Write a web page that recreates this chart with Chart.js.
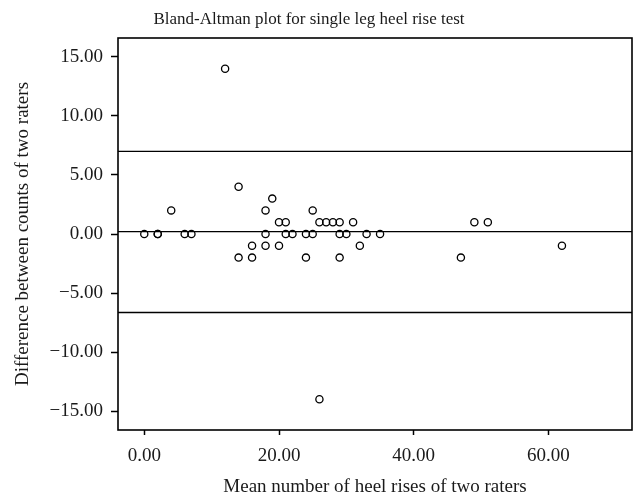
<!DOCTYPE html>
<html>
<head>
<meta charset="utf-8">
<script src="https://cdn.jsdelivr.net/npm/chart.js@4.4.1/dist/chart.umd.min.js"></script>
<style>
  html, body { margin: 0; padding: 0; background: #fff; }
  #wrap { width: 641px; height: 499px; position: relative; }
</style>
</head>
<body>
<div id="wrap"><canvas id="chart"></canvas></div>
<script>
;(function (window, document, Chart) {
  // mean of the two raters' counts (x) and the difference between them (y)
  var meanCounts = [0, 2, 2, 6, 7, 18, 21, 22, 24, 25, 29, 30, 33, 35,
                    20, 21, 26, 27, 28, 29, 31, 49, 51,
                    4, 18, 25,
                    19, 14, 12,
                    16, 18, 20, 32, 62,
                    14, 16, 24, 29, 47,
                    26]
  var diffCounts = [0, 0, 0, 0, 0, 0, 0, 0, 0, 0, 0, 0, 0, 0,
                    1, 1, 1, 1, 1, 1, 1, 1, 1,
                    2, 2, 2,
                    3, 4, 14,
                    -1, -1, -1, -1, -1,
                    -2, -2, -2, -2, -2,
                    -14]

  // mean difference and limits of agreement
  var meanDiff = 0.2
  var upperLimit = 7.0
  var lowerLimit = -6.65

  var xTicks = [0, 20, 40, 60]
  var yTicks = [-15, -10, -5, 0, 5, 10, 15]
  var xRange = [-3.9, 72.4]
  var yRange = [-16.6, 16.6]

  var titleText = 'Bland-Altman plot for single leg heel rise test'
  var xLabel = 'Mean number of heel rises of two raters'
  var yLabel = 'Difference between counts of two raters'

  var serif = "'Liberation Serif', 'DejaVu Serif', serif"
  var ink = '#000'

  var points = []
  for (var i = 0; i < meanCounts.length; i++) {
    points.push({ x: meanCounts[i], y: diffCounts[i] })
  }

  function hLine (value) {
    return {
      data: [{ x: xRange[0], y: value }, { x: xRange[1], y: value }],
      showLine: true,
      borderColor: ink,
      borderWidth: 1.3,
      pointRadius: 0
    }
  }

  function fmt (value) {
    var s = Math.abs(value).toFixed(2)
    return value < 0 ? '\u2212' + s : s
  }

  // box round the plot area plus the title above it
  var frame = {
    id: 'frame',
    afterDraw: function (chart) {
      var ctx = chart.ctx
      var a = chart.chartArea
      ctx.save()
      ctx.strokeStyle = ink
      ctx.lineWidth = 1.6
      ctx.strokeRect(a.left, a.top, a.right - a.left, a.bottom - a.top)
      ctx.fillStyle = '#1a1a1a'
      ctx.font = '17px ' + serif
      ctx.textAlign = 'center'
      ctx.textBaseline = 'middle'
      ctx.fillText(titleText, 309, 20)
      ctx.restore()
    }
  }

  var tickFont = { family: serif, size: 19 }

  new Chart(document.getElementById('chart').getContext('2d'), {
    type: 'scatter',
    data: {
      datasets: [
        {
          data: points,
          pointRadius: 3.6,
          pointBorderWidth: 1.3,
          pointBorderColor: ink,
          pointBackgroundColor: 'rgba(255,255,255,0)'
        },
        hLine(upperLimit),
        hLine(meanDiff),
        hLine(lowerLimit)
      ]
    },
    options: {
      responsive: true,
      maintainAspectRatio: false,
      animation: false,
      layout: { padding: { top: 38, right: 9, left: 0, bottom: 0 } },
      plugins: { legend: { display: false }, tooltip: { enabled: false } },
      scales: {
        x: {
          type: 'linear',
          min: xRange[0],
          max: xRange[1],
          afterBuildTicks: function (s) { s.ticks = xTicks.map(function (v) { return { value: v } }) },
          afterFit: function (s) { s.height = 69 },
          ticks: { callback: fmt, font: tickFont, color: '#1a1a1a', padding: 10, maxRotation: 0, autoSkip: false },
          grid: { drawOnChartArea: false, drawTicks: true, tickLength: 5, color: ink, tickWidth: 1.5 },
          border: { display: false },
          title: { display: true, text: xLabel, font: tickFont, color: '#1a1a1a', padding: { top: 0, bottom: 1 } }
        },
        y: {
          type: 'linear',
          min: yRange[0],
          max: yRange[1],
          afterBuildTicks: function (s) { s.ticks = yTicks.map(function (v) { return { value: v } }) },
          afterFit: function (s) { s.width = 118 },
          ticks: { callback: fmt, font: tickFont, color: '#1a1a1a', padding: 8, autoSkip: false },
          grid: { drawOnChartArea: false, drawTicks: true, tickLength: 7, color: ink, tickWidth: 1.5 },
          border: { display: false },
          title: { display: true, text: yLabel, font: tickFont, color: '#1a1a1a', padding: { top: 12, bottom: 0 } }
        }
      }
    },
    plugins: [frame]
  })
})(window, document, Chart);
</script>
</body>
</html>
